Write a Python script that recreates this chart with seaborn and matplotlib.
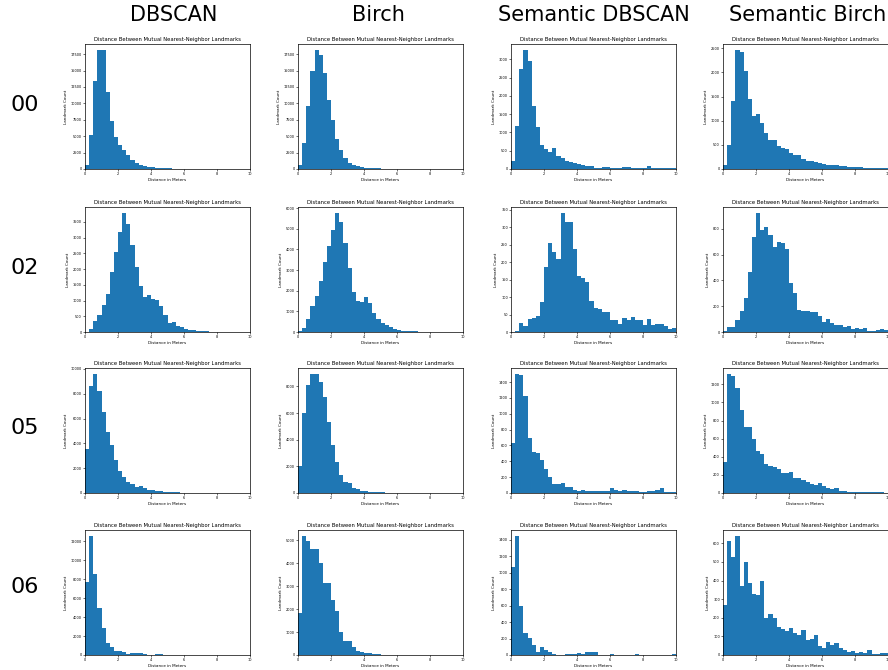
import numpy as np
import pandas as pd
import matplotlib
matplotlib.use("Agg")
import matplotlib.pyplot as plt
import seaborn as sns

# ---- data: 40 bins of 0.25 m from 0 to 10 m ----
bin_edges = [i * 0.25 for i in range(41)]
methods = ["DBSCAN", "Birch", "Semantic DBSCAN", "Semantic Birch"]
sequences = ["00", "02", "05", "06"]

s00_dbscan = [600, 5190, 13390, 18130, 18080, 11710, 7380, 4890, 3720, 2900,
              2140, 1370, 870, 660, 510, 360, 250, 200, 150, 100,
              80, 60, 50, 40, 30, 30, 25, 20, 20, 20,
              40, 20, 15, 10, 10, 10, 10, 10, 10, 10]
s00_birch = [610, 3920, 9670, 14920, 18130, 17410, 14610, 10540, 7430, 4580,
             2850, 1630, 870, 610, 400, 250, 200, 150, 100, 80,
             60, 50, 40, 20, 20, 15, 10, 10, 5, 5,
             5, 5, 5, 0, 0, 0, 0, 0, 0, 0]
s00_sem_dbscan = [230, 1190, 2740, 3260, 2950, 1730, 1140, 660, 560, 470,
                  575, 365, 310, 210, 180, 155, 135, 100, 70, 75,
                  40, 40, 45, 45, 25, 25, 25, 50, 50, 35,
                  25, 25, 25, 75, 35, 25, 20, 15, 15, 25]
s00_sem_birch = [85, 505, 1410, 2465, 2420, 2030, 1450, 1100, 1130, 950,
                 740, 610, 610, 470, 430, 420, 330, 285, 285, 210,
                 175, 160, 140, 120, 100, 85, 85, 75, 60, 55,
                 50, 35, 50, 35, 30, 30, 25, 25, 20, 20]

s02_dbscan = [10, 106, 350, 540, 870, 1210, 1890, 2540, 3170, 3780,
              3430, 2750, 2050, 1450, 1110, 1180, 1050, 1010, 810, 530,
              300, 310, 200, 170, 95, 75, 55, 40, 30, 20,
              15, 10, 10, 5, 5, 5, 5, 5, 5, 5]
s02_birch = [30, 180, 620, 1270, 1740, 2460, 3380, 4180, 4960, 5770,
             5320, 4310, 3120, 1930, 1510, 1450, 1690, 1410, 940, 650,
             420, 360, 240, 160, 100, 65, 50, 35, 30, 20,
             15, 10, 10, 5, 5, 5, 0, 0, 0, 0]
s02_sem_dbscan = [0, 4, 25, 17, 38, 41, 46, 87, 187, 254,
                  228, 209, 341, 315, 315, 239, 159, 155, 142, 88,
                  70, 65, 57, 57, 35, 35, 24, 41, 34, 43,
                  33, 33, 19, 37, 20, 24, 24, 18, 10, 12]
s02_sem_birch = [10, 36, 39, 91, 161, 262, 462, 735, 922, 790,
                 816, 748, 655, 699, 688, 644, 377, 299, 174, 164,
                 164, 153, 153, 122, 80, 104, 70, 55, 55, 36,
                 44, 23, 34, 26, 29, 8, 8, 16, 23, 18]

s05_dbscan = [3510, 8590, 9590, 8220, 6490, 4890, 3840, 2650, 1810, 1300,
              920, 730, 510, 590, 380, 270, 240, 160, 135, 110,
              80, 70, 50, 40, 30, 25, 20, 15, 10, 10,
              5, 5, 5, 0, 0, 0, 0, 0, 0, 0]
s05_birch = [1990, 6010, 8080, 8930, 8900, 8300, 7170, 5310, 3570, 2310,
             1380, 860, 750, 400, 280, 180, 150, 100, 75, 50,
             40, 30, 25, 20, 15, 10, 10, 5, 5, 0,
             0, 0, 0, 0, 0, 0, 0, 0, 0, 0]
s05_sem_dbscan = [629, 1502, 1494, 1224, 700, 511, 506, 418, 304, 198,
                  110, 118, 122, 72, 76, 38, 30, 38, 25, 21,
                  25, 25, 21, 25, 63, 34, 21, 42, 21, 21,
                  25, 17, 17, 25, 25, 38, 59, 8, 8, 8]
s05_sem_birch = [343, 1314, 1288, 1155, 911, 734, 723, 598, 461, 432,
                 321, 303, 288, 262, 221, 221, 232, 166, 166, 144,
                 125, 96, 89, 114, 74, 59, 41, 55, 18, 26,
                 10, 10, 12, 15, 15, 16, 10, 8, 6, 5]

s06_dbscan = [7660, 12560, 8500, 4940, 2860, 1300, 810, 460, 460, 320,
              140, 210, 180, 210, 140, 35, 35, 140, 70, 20,
              20, 15, 10, 10, 5, 5, 5, 5, 0, 0,
              0, 0, 0, 0, 0, 0, 0, 0, 0, 0]
s06_birch = [1820, 5190, 4990, 4640, 4630, 4010, 3150, 3150, 2380, 1930,
             990, 600, 600, 360, 190, 115, 90, 70, 55, 45,
             20, 15, 10, 10, 5, 5, 0, 0, 0, 0,
             0, 0, 0, 0, 0, 0, 0, 0, 0, 0]
s06_sem_dbscan = [1073, 1445, 591, 263, 210, 121, 40, 101, 57, 32,
                  8, 5, 5, 10, 10, 10, 28, 16, 36, 40,
                  40, 5, 5, 5, 12, 5, 5, 5, 5, 5,
                  12, 5, 5, 5, 5, 5, 5, 5, 5, 16]
s06_sem_birch = [271, 613, 525, 640, 373, 502, 387, 328, 323, 398,
                 201, 222, 199, 152, 142, 129, 143, 118, 108, 136,
                 82, 88, 109, 48, 36, 70, 52, 66, 38, 29,
                 16, 20, 11, 18, 11, 27, 7, 4, 9, 9]

grid = [
    [s00_dbscan, s00_birch, s00_sem_dbscan, s00_sem_birch],
    [s02_dbscan, s02_birch, s02_sem_dbscan, s02_sem_birch],
    [s05_dbscan, s05_birch, s05_sem_dbscan, s05_sem_birch],
    [s06_dbscan, s06_birch, s06_sem_dbscan, s06_sem_birch],
]

W, H = 888, 670
fig = plt.figure(figsize=(W / 100, H / 100), dpi=100)

col_left = [85, 298, 511, 723]
row_top = [44, 207, 368, 530]
aw, ah = 165, 125
centers = [(bin_edges[i] + bin_edges[i + 1]) / 2 for i in range(40)]

for r in range(4):
    for c in range(4):
        df = pd.DataFrame({"distance": centers, "count": grid[r][c]})
        left = col_left[c] / W
        bottom = 1 - (row_top[r] + ah) / H
        ax = fig.add_axes([left, bottom, aw / W, ah / H])
        sns.histplot(data=df, x="distance", weights="count", bins=bin_edges,
                     ax=ax, color="#1f77b4", alpha=1, linewidth=0)
        ax.set_xlim(0, 10)
        ax.set_xticks([0, 2, 4, 6, 8, 10])
        ax.set_title("Distance Between Mutual Nearest-Neighbor Landmarks",
                     fontsize=3.8, pad=2)
        ax.set_xlabel("Distance in Meters", fontsize=3.0, labelpad=1.5)
        ax.set_ylabel("Landmark Count", fontsize=3.0, labelpad=2)
        ax.tick_params(labelsize=2.5, length=1.2, width=0.4, pad=1)
        for sp in ax.spines.values():
            sp.set_linewidth(0.5)

col_centers = [174, 378, 594, 808]
for name, xc in zip(methods, col_centers):
    fig.text(xc / W, 1 - 15 / H, name, ha="center", va="center", fontsize=15)

row_centers = [105, 268, 428, 587]
for name, yc in zip(sequences, row_centers):
    fig.text(25 / W, 1 - yc / H, name, ha="center", va="center", fontsize=16)

fig.savefig("out.png", dpi=100)
